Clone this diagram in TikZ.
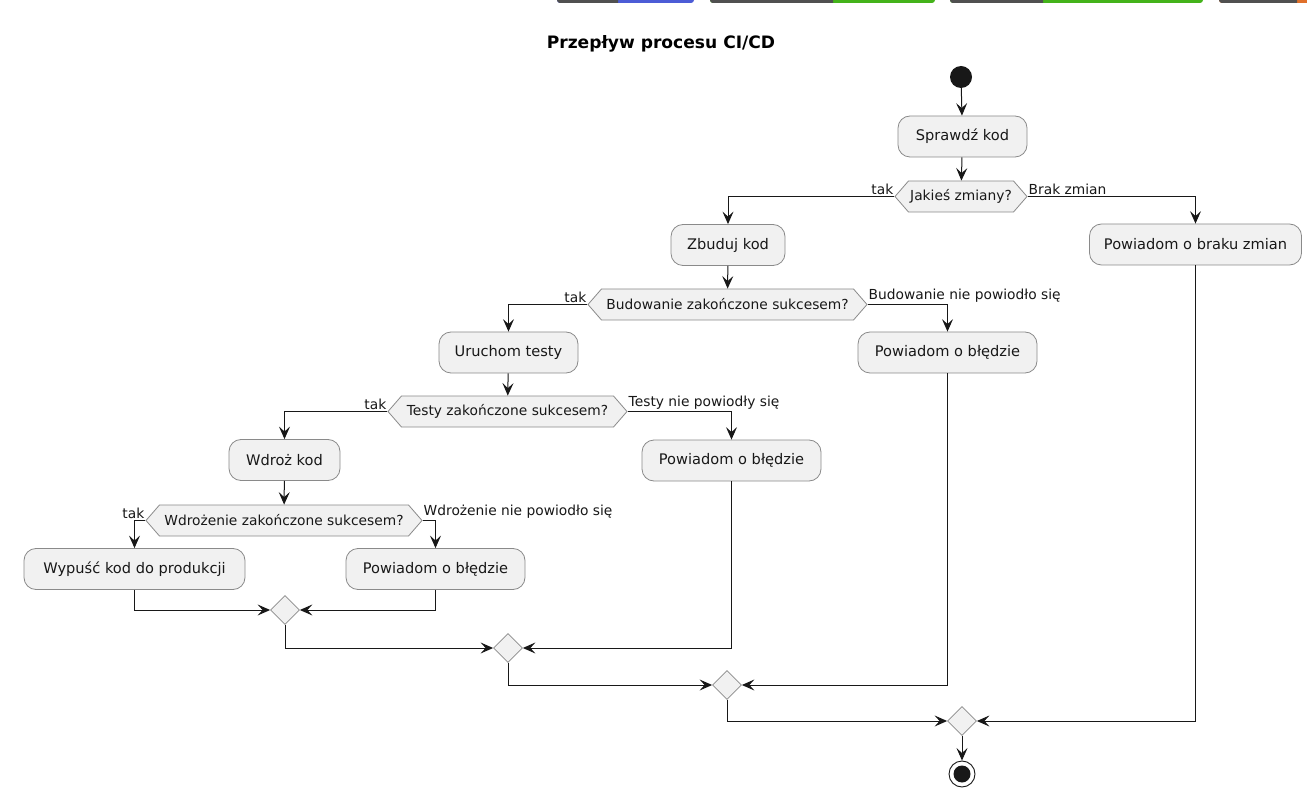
\documentclass[tikz,border=0pt]{standalone}
\usepackage{fontspec}
\setmainfont{DejaVu Sans}
\usetikzlibrary{arrows.meta,shapes.symbols,shapes.geometric}
\definecolor{boxfill}{HTML}{F1F1F1}
\definecolor{boxline}{HTML}{8A8A8A}
\definecolor{ink}{HTML}{181818}
\definecolor{bdark}{HTML}{505050}
\definecolor{bblue}{HTML}{4C5CD6}
\definecolor{bgreen}{HTML}{44B31A}
\definecolor{borange}{HTML}{E0702A}
\begin{document}
\begin{tikzpicture}[x=1pt,y=-1pt,
  act/.style={rectangle, rounded corners=12pt, draw=boxline, fill=boxfill, line width=0.8pt, minimum height=41pt, inner sep=0pt, font=\fontsize{14.6}{17}\selectfont, text=ink},
  hexa/.style={signal, signal to=west and east, signal pointer angle=98, draw=boxline, fill=boxfill, line width=0.8pt, minimum height=31pt, inner sep=0pt, font=\fontsize{13.8}{16}\selectfont, text=ink},
  merge/.style={diamond, draw=boxline, fill=boxfill, line width=0.8pt, minimum size=29pt, inner sep=0pt},
  flow/.style={draw=ink, line width=1pt, -{Stealth[length=12.5pt,width=11pt,inset=5pt]}},
  lbl/.style={font=\fontsize{13.8}{16}\selectfont, inner sep=1pt, text=ink}]
\useasboundingbox (0,0) rectangle (1307,794);
\fill[white] (0,0) rectangle (1307,794);
% badges (cut off at top)
\begin{scope}
\clip (0,0) rectangle (1307,794);
\fill[bblue, rounded corners=3pt] (557,-20) rectangle (694,3);
\begin{scope}\clip (557,-20) rectangle (618,3);
\fill[bdark, rounded corners=3pt] (557,-20) rectangle (694,3);\end{scope}
\fill[bgreen, rounded corners=3pt] (710,-20) rectangle (935,3);
\begin{scope}\clip (710,-20) rectangle (833,3);
\fill[bdark, rounded corners=3pt] (710,-20) rectangle (935,3);\end{scope}
\fill[bgreen, rounded corners=3pt] (950,-20) rectangle (1203,3);
\begin{scope}\clip (950,-20) rectangle (1043,3);
\fill[bdark, rounded corners=3pt] (950,-20) rectangle (1203,3);\end{scope}
\fill[borange, rounded corners=3pt] (1219,-20) rectangle (1330,3);
\begin{scope}\clip (1219,-20) rectangle (1297,3);
\fill[bdark, rounded corners=3pt] (1219,-20) rectangle (1330,3);\end{scope}
\end{scope}
% title
\node[font=\bfseries\fontsize{17.1}{20}\selectfont, text=black] (title) at (661,44) {Przepływ procesu CI/CD};
% nodes
\node[circle, fill=ink, minimum size=22pt, inner sep=0pt] (start) at (961,77) {};
\node[act, minimum width=129pt] (check) at (962.5,136.5) {Sprawdź kod};
\node[hexa, minimum width=132pt] (j1) at (961,196.5) {Jakieś zmiany?};
\node[act, minimum width=114pt] (zbuduj) at (728,245) {Zbuduj kod};
\node[act, minimum width=212pt] (braku) at (1195.5,244.5) {Powiadom o braku zmian};
\node[hexa, minimum width=279pt] (j2) at (727.5,304.5) {Budowanie zakończone sukcesem?};
\node[act, minimum width=139pt] (uruchom) at (508.5,352.5) {Uruchom testy};
\node[act, minimum width=179pt] (pob1) at (947.5,352.5) {Powiadom o błędzie};
\node[hexa, minimum width=239pt] (j3) at (507.5,411.5) {Testy zakończone sukcesem?};
\node[act, minimum width=111pt] (wdroz) at (284.5,460) {Wdroż kod};
\node[act, minimum width=179pt] (pob2) at (731.5,460.5) {Powiadom o błędzie};
\node[hexa, minimum width=276pt] (j4) at (284,520.5) {Wdrożenie zakończone sukcesem?};
\node[act, minimum width=221pt] (wypusc) at (134.5,569) {Wypuść kod do produkcji};
\node[act, minimum width=179pt] (pob3) at (435.5,569) {Powiadom o błędzie};
\node[merge] (m1) at (285,610) {};
\node[merge] (m2) at (508,648) {};
\node[merge] (m3) at (727,685) {};
\node[merge] (m4) at (962,721) {};
\node[circle, draw=ink, line width=0.9pt, fill=white, minimum size=26pt, inner sep=0pt] (end) at (962,774) {};
\fill[ink] (end.center) circle (8.5pt);
% connectors
\draw[flow] (start) -- (check);
\draw[flow] (check) -- (j1);
\draw[flow] (j1.west) -| (zbuduj.north);
\node[lbl, anchor=south east] (l1) at ([yshift=1pt]j1.west) {tak};
\draw[flow] (j1.east) -| (braku.north);
\node[lbl, anchor=south west] (l2) at ([yshift=1pt]j1.east) {Brak zmian};
\draw[flow] (zbuduj) -- (j2);
\draw[flow] (j2.west) -| (uruchom.north);
\node[lbl, anchor=south east] (l3) at ([yshift=1pt]j2.west) {tak};
\draw[flow] (j2.east) -| (pob1.north);
\node[lbl, anchor=south west] (l4) at ([yshift=1pt]j2.east) {Budowanie nie powiodło się};
\draw[flow] (uruchom) -- (j3);
\draw[flow] (j3.west) -| (wdroz.north);
\node[lbl, anchor=south east] (l5) at ([yshift=1pt]j3.west) {tak};
\draw[flow] (j3.east) -| (pob2.north);
\node[lbl, anchor=south west] (l6) at ([yshift=1pt]j3.east) {Testy nie powiodły się};
\draw[flow] (wdroz) -- (j4);
\draw[flow] (j4.west) -| (wypusc.north);
\node[lbl, anchor=south east] (l7) at ([yshift=1pt]j4.west) {tak};
\draw[flow] (j4.east) -| (pob3.north);
\node[lbl, anchor=south west] (l8) at ([yshift=1pt]j4.east) {Wdrożenie nie powiodło się};
\draw[flow] (wypusc.south) |- (m1.west);
\draw[flow] (pob3.south) |- (m1.east);
\draw[flow] (m1.south) |- (m2.west);
\draw[flow] (pob2.south) |- (m2.east);
\draw[flow] (m2.south) |- (m3.west);
\draw[flow] (pob1.south) |- (m3.east);
\draw[flow] (m3.south) |- (m4.west);
\draw[flow] (braku.south) |- (m4.east);
\draw[flow] (m4) -- (end);
\end{tikzpicture}
\end{document}
